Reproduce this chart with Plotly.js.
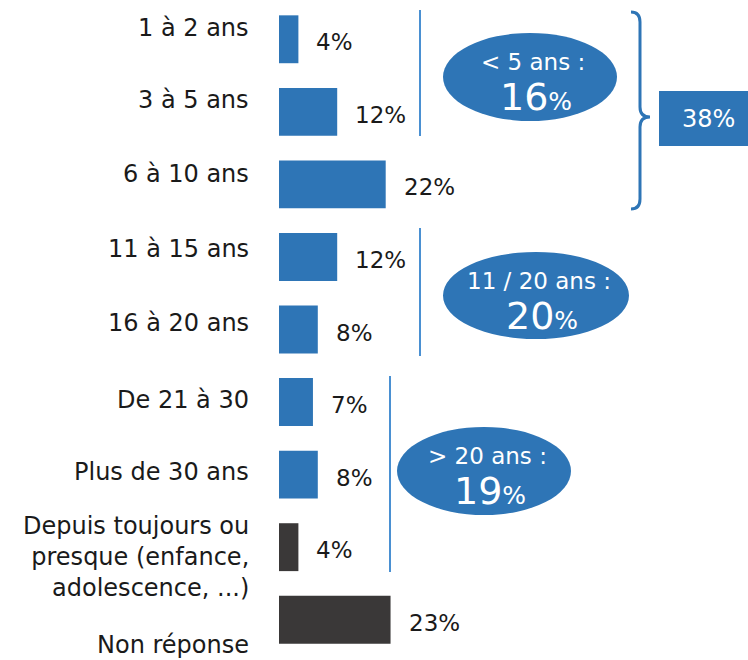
<!DOCTYPE html>
<html>
<head>
<meta charset="utf-8">
<script src="https://cdn.plot.ly/plotly-3.0.1.min.js"></script>
<style>html,body{margin:0;padding:0;background:#fff;}#chart{width:748px;height:660px;}</style>
</head>
<body>
<div id="chart"></div>
<script>
// ---- data ----
var categories = ["1 à 2 ans", "3 à 5 ans", "6 à 10 ans", "11 à 15 ans", "16 à 20 ans",
  "De 21 à 30", "Plus de 30 ans", "Depuis toujours ou<br>presque (enfance,<br>adolescence, ...)", "Non réponse"];
var values = [4, 12, 22, 12, 8, 7, 8, 4, 23];
var groupNames = ["< 5 ans :", "11 / 20 ans :", "> 20 ans :"];
var groupTotals = [16, 20, 19];
var overallTotal = 38;

// ---- styles ----
var BLUE = "#2e75b6", DARK = "#3a3838", LINE = "#4a90d2";
var barColors = [BLUE, BLUE, BLUE, BLUE, BLUE, BLUE, BLUE, DARK, DARK];
var labelYShift = [11, 12, 10, 8, 7, 2, 3, -10, -25];
var FONT = "DejaVu Sans";

var W = 748, H = 660, L = 279, R = 0, T = 3, B = 4;
var pw = W - L - R, ph = H - T - B;
function px(x) { return (x - L) / pw; }
function py(y) { return 1 - (y - T) / ph; }

var idx = categories.map(function (c, i) { return i; });

var trace = {
  type: "bar", orientation: "h",
  x: values, y: idx,
  width: 0.66,
  marker: { color: barColors },
  hoverinfo: "skip"
};

var annotations = [];
// category labels
categories.forEach(function (c, i) {
  annotations.push({
    xref: "paper", yref: "y", x: 0, y: i, xshift: -28, yshift: labelYShift[i],
    xanchor: "right", yanchor: "middle", align: "right",
    text: c, showarrow: false,
    font: { family: FONT, size: 24, color: "#1a1a1a" }
  });
});
// value labels
values.forEach(function (v, i) {
  annotations.push({
    xref: "x", yref: "y", x: v, y: i, xshift: 16, yshift: -3,
    xanchor: "left", yanchor: "middle",
    text: v + "%", showarrow: false,
    font: { family: FONT, size: 23, color: "#1a1a1a" }
  });
});

// ellipses (pixel boxes)
var ellipses = [
  { x0: 443, x1: 617, y0: 33, y1: 121 },
  { x0: 443, x1: 629, y0: 252, y1: 339 },
  { x0: 397, x1: 571, y0: 427, y1: 515 }
];
var shapes = [];
ellipses.forEach(function (e, i) {
  shapes.push({
    type: "circle", xref: "paper", yref: "paper",
    x0: px(e.x0), x1: px(e.x1), y0: py(e.y1), y1: py(e.y0),
    fillcolor: BLUE, line: { width: 0 }, layer: "above"
  });
  var cx = (e.x0 + e.x1) / 2;
  annotations.push({
    xref: "paper", yref: "paper", x: px(cx + 3), y: py(e.y0 + 29),
    xanchor: "center", yanchor: "middle", showarrow: false,
    text: groupNames[i],
    font: { family: FONT, size: 23, color: "#ffffff" }
  });
  annotations.push({
    xref: "paper", yref: "paper", x: px(cx + 6), y: py(e.y0 + 64),
    xanchor: "center", yanchor: "middle", showarrow: false,
    text: groupTotals[i] + "<span style='font-size:25px'>%</span>",
    font: { family: FONT, size: 38, color: "#ffffff" }
  });
});

// vertical lines
var vlines = [
  { x: 420, y0: 10, y1: 136 },
  { x: 420, y0: 228, y1: 356 },
  { x: 390, y0: 376, y1: 572 }
];
vlines.forEach(function (l) {
  shapes.push({
    type: "line", xref: "paper", yref: "paper",
    x0: px(l.x), x1: px(l.x), y0: py(l.y0), y1: py(l.y1),
    line: { color: LINE, width: 2 }
  });
});

// brace
function P(x, y) { return px(x).toFixed(5) + "," + py(y).toFixed(5); }
var bracePath = "M" + P(631, 12) + " Q" + P(640, 12) + " " + P(640, 22) +
  " L" + P(640, 107) + " Q" + P(640, 117) + " " + P(650, 117) +
  " Q" + P(640, 117) + " " + P(640, 127) +
  " L" + P(640, 199) + " Q" + P(640, 209) + " " + P(631, 209);
shapes.push({
  type: "path", xref: "paper", yref: "paper", path: bracePath,
  line: { color: BLUE, width: 3 }
});

// total box
shapes.push({
  type: "rect", xref: "paper", yref: "paper",
  x0: px(659), x1: px(748), y0: py(146), y1: py(91),
  fillcolor: BLUE, line: { width: 0 }
});
annotations.push({
  xref: "paper", yref: "paper", x: px(708), y: py(119),
  xanchor: "center", yanchor: "middle", showarrow: false,
  text: overallTotal + "%",
  font: { family: FONT, size: 24, color: "#ffffff" }
});

var layout = {
  width: W, height: H,
  margin: { l: L, r: R, t: T, b: B, pad: 0 },
  paper_bgcolor: "#ffffff", plot_bgcolor: "#ffffff",
  showlegend: false,
  xaxis: { range: [0, pw / 4.85], visible: false, fixedrange: true },
  yaxis: { range: [categories.length - 0.5, -0.5], visible: false, fixedrange: true },
  shapes: shapes,
  annotations: annotations
};

Plotly.newPlot("chart", [trace], layout, { staticPlot: true, displayModeBar: false });
</script>
</body>
</html>
